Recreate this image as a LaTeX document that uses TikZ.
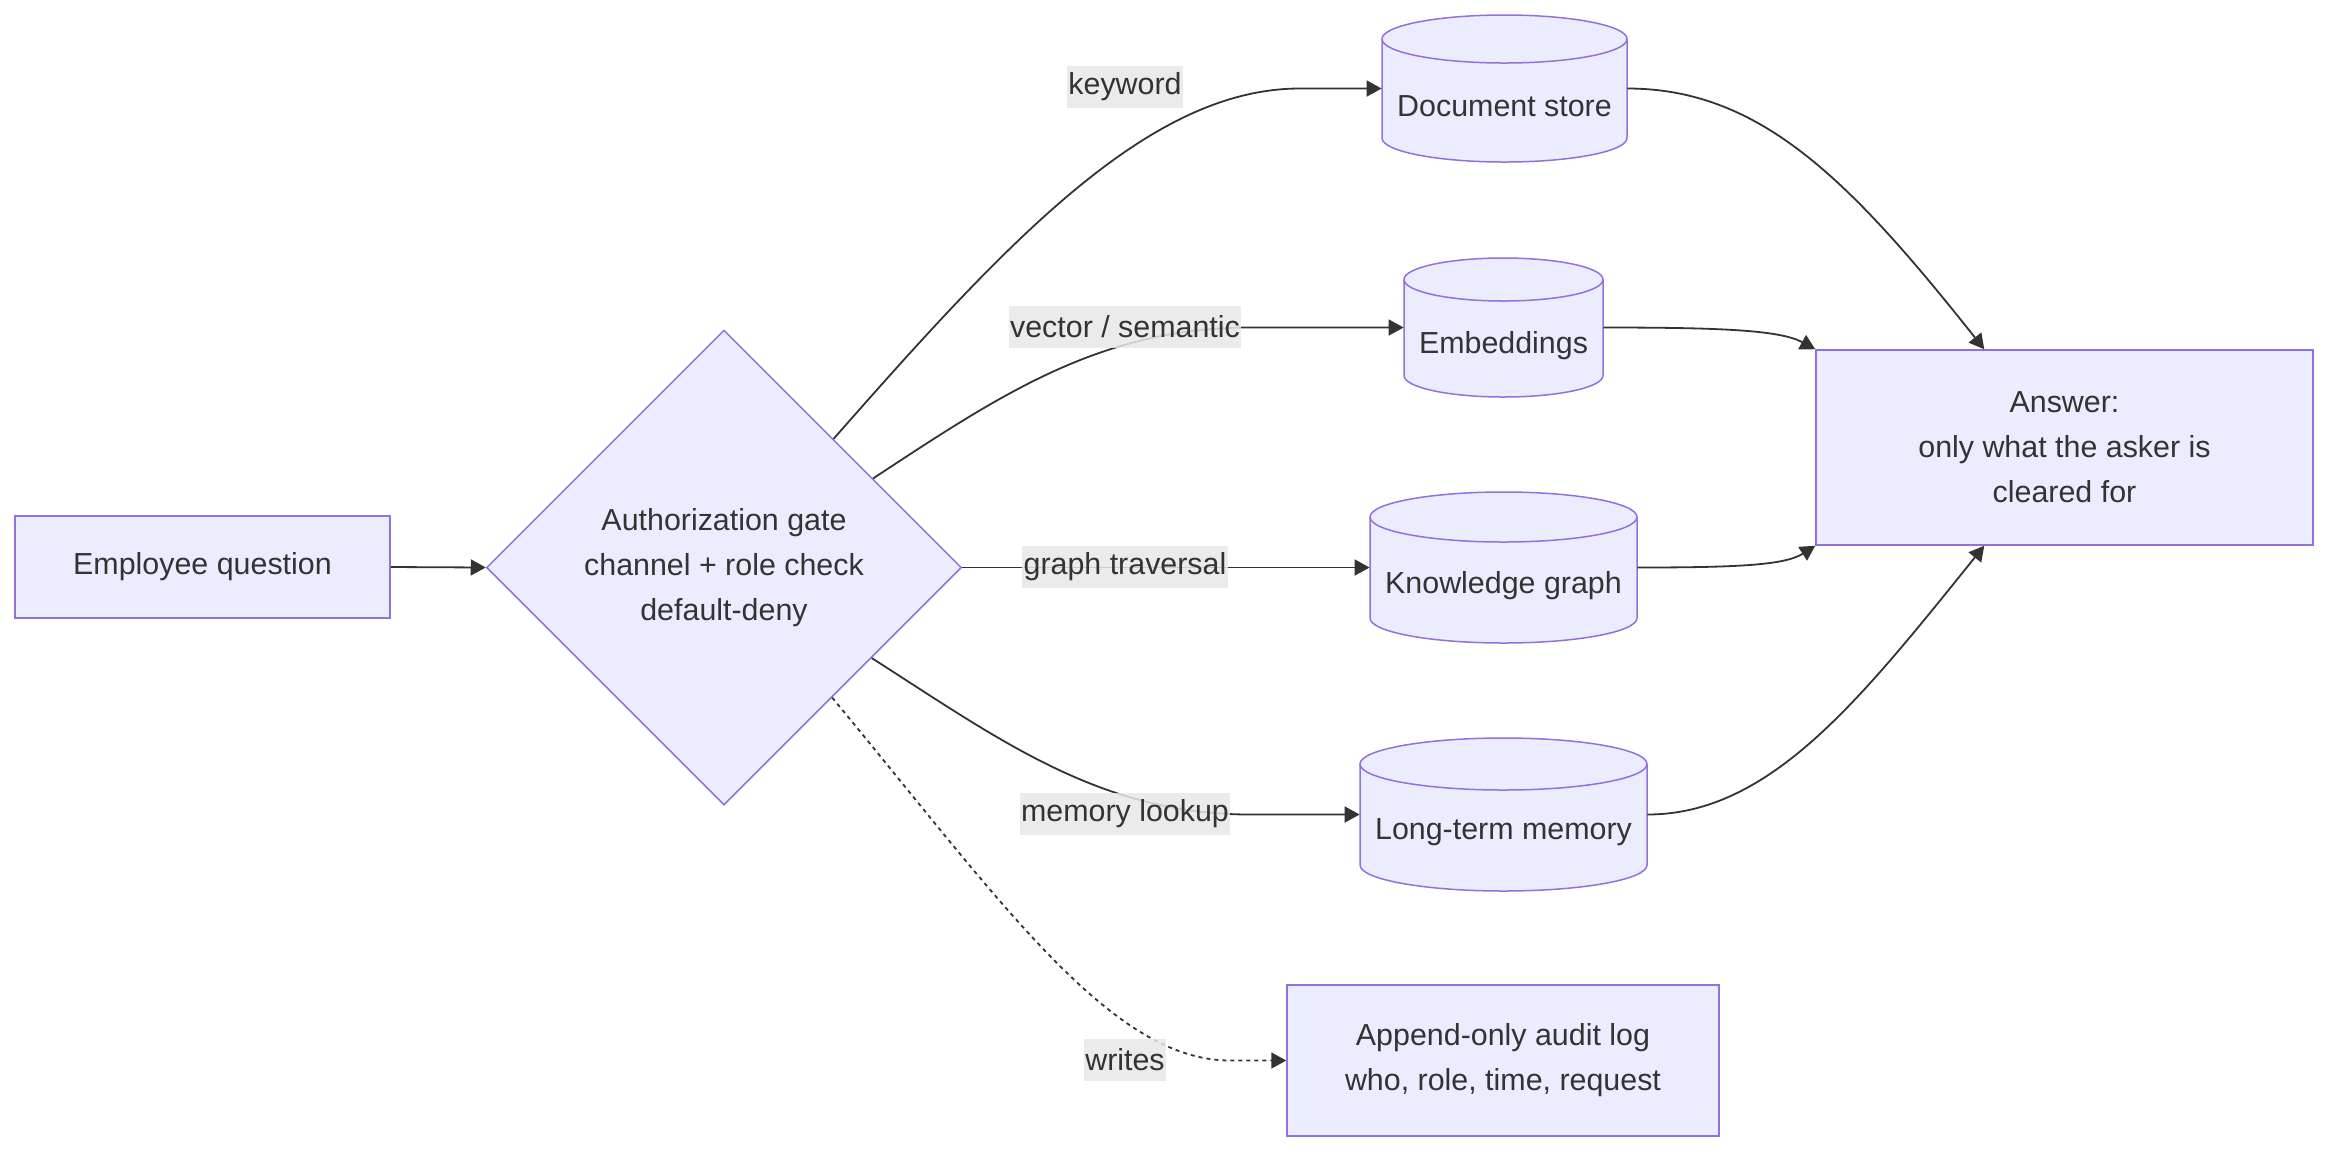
\documentclass[tikz,border=0pt]{standalone}
\usepackage{fontspec}
\setmainfont{Liberation Sans}
\usetikzlibrary{shapes.geometric,arrows.meta,calc}
\definecolor{nfill}{HTML}{ECECFF}
\definecolor{nline}{HTML}{9370DB}
\definecolor{ntext}{HTML}{333333}
\definecolor{elab}{HTML}{E8E8E8}
\definecolor{eline}{HTML}{333333}
\tikzset{
  base/.style={font=\fontsize{15.2pt}{22.5pt}\selectfont, text=ntext, align=center},
  box/.style={base, rectangle, draw=nline, fill=nfill, line width=0.75pt, inner sep=0pt},
  gatebox/.style={base, diamond, draw=nline, fill=nfill, line width=0.75pt, inner sep=0pt, aspect=1},
  cyltext/.style={base, inner sep=0pt},
  anchorbox/.style={rectangle, draw=none, inner sep=0pt},
  elabel/.style={base, fill=elab, fill opacity=0.85, text opacity=1, inner xsep=0.6pt, inner ysep=0pt, minimum height=21pt},
  flow/.style={draw=eline, line width=0.9pt, -{Triangle[length=7.5pt,width=8pt]}},
  dotflow/.style={flow, dash pattern=on 2pt off 2pt},
  cylpath/.style={fill=nfill, draw=nline, line width=0.75pt},
}
\newcommand{\mycyl}[7]{%
  \pgfmathsetmacro{\cylcx}{(#2+#3)/2}%
  \pgfmathsetmacro{\cylcy}{(#4+#5)/2}%
  \pgfmathsetmacro{\cylrx}{(#3-#2)/4}%
  \pgfmathsetmacro{\cylry}{#6/2}%
  \pgfmathsetmacro{\cylw}{(#3-#2)/2}%
  \pgfmathsetmacro{\cylh}{(#5-#4)/2}%
  \path[cylpath] (#2,-#4-#6) -- (#2,-#5+#6) arc[start angle=180,end angle=360,x radius=\cylrx pt,y radius=\cylry pt] -- (#3,-#4-#6) arc[start angle=0,end angle=180,x radius=\cylrx pt,y radius=\cylry pt] -- cycle;
  \draw[cylpath, fill=none] (#2,-#4-#6) arc[start angle=180,end angle=360,x radius=\cylrx pt,y radius=\cylry pt];
  \node[anchorbox, minimum width=\cylw pt, minimum height=\cylh pt] (#1) at (\cylcx,-\cylcy) {};
  \node[cyltext] (#1-t) at (\cylcx,-\cylcy-18) {#7};
}
\begin{document}
\begin{tikzpicture}[x=0.5pt,y=0.5pt]
\path[use as bounding box, fill=white] (0,0) rectangle (2352,-1164);

% nodes
\node[box, minimum width=187.5pt, minimum height=51pt] (emp) at (202.5,-567) {Employee question};
\node[gatebox, minimum width=237.5pt, minimum height=237.5pt] (gate) at (724,-567.5) {Authorization gate\\channel + role check\\default-deny};
\mycyl{ds}{1382}{1627}{15}{162}{24}{Document store}
\mycyl{emb}{1404}{1603}{258}{397}{21.5}{Embeddings}
\mycyl{kg}{1370}{1637}{492}{643}{25}{Knowledge graph}
\mycyl{ltm}{1360}{1647}{738}{891}{26}{Long-term memory}
\node[box, minimum width=248.5pt, minimum height=97.5pt] (ans) at (2064.5,-447.5) {Answer:\\only what the asker is\\cleared for};
\node[box, minimum width=216pt, minimum height=75.5pt] (audit) at (1503,-1060.5) {Append-only audit log\\who, role, time, request};

% connectors
\draw[flow] (emp.east) -- (gate.west);
\draw[flow] ($(gate.north)!0.46!(gate.east)$) .. controls (1010,-238) and (1150,-88.5) .. (1300,-88.5) -- (ds.west);
\draw[flow] ($(gate.north)!0.626!(gate.east)$) .. controls (1000,-395) and (1100,-327.5) .. (1250,-327.5) -- (emb.west);
\draw[flow] (gate.east) -- (kg.west);
\draw[flow] ($(gate.east)!0.38!(gate.south)$) .. controls (1000,-740) and (1100,-814.5) .. (1250,-814.5) -- (ltm.west);
\draw[dotflow] ($(gate.east)!0.546!(gate.south)$) .. controls (1000,-900) and (1110,-1060.5) .. (1230,-1060.5) -- (audit.west);

\draw[flow] (ds.east) .. controls (1760,-88.5) and (1850,-180) .. ($(ans.north west)!0.339!(ans.north east)$);
\draw[flow] (emb.east) .. controls (1720,-327.5) and (1780,-330) .. (ans.north west);
\draw[flow] (kg.east) .. controls (1740,-567.5) and (1785,-565) .. (ans.south west);
\draw[flow] (ltm.east) .. controls (1770,-814.5) and (1860,-700) .. ($(ans.south west)!0.339!(ans.south east)$);

% edge labels
\node[elabel] (lkw) at (1125,-87) {keyword};
\node[elabel] (lvec) at (1125,-326.5) {vector / semantic};
\node[elabel] (lgr) at (1125,-567) {graph traversal};
\node[elabel] (lmem) at (1125,-813.5) {memory lookup};
\node[elabel] (lwr) at (1125,-1059.5) {writes};
\end{tikzpicture}
\end{document}
